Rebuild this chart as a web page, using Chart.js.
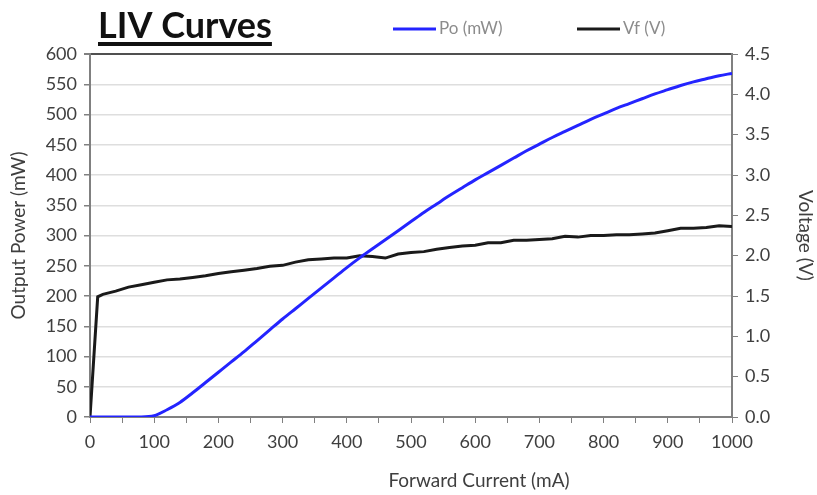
<!DOCTYPE html>
<html>
<head>
<meta charset="utf-8">
<script src="https://cdn.jsdelivr.net/npm/chart.js@4/dist/chart.umd.min.js"></script>
<style>
  body { margin: 0; background: #fff; }
  #wrap { width: 817px; height: 495px; }
</style>
</head>
<body>
<div id="wrap"><canvas id="livChart" width="817" height="495"></canvas></div>
<script>
// forward current (mA)
const currents = [0, 12, 20, 40, 60, 80, 100, 120, 140, 160, 180, 200, 220, 240, 260, 280, 300,
  320, 340, 360, 380, 400, 420, 440, 460, 480, 500, 520, 540, 560, 580, 600, 620, 640, 660, 680,
  700, 720, 740, 760, 780, 800, 820, 840, 860, 880, 900, 920, 940, 960, 980, 1000];
// output power (mW)
const poValues = [0, 0, 0, 0, 0, 0, 2, 12, 24, 40, 57, 74, 91, 108, 126, 144, 162,
  179, 196, 213, 230, 247, 263, 278, 293, 308, 323, 338, 352, 366, 379, 392, 404, 416, 428, 440,
  451, 462, 472, 482, 492, 501, 510, 518, 526, 534, 541, 548, 554, 559, 564, 568];
// forward voltage (V)
const vfValues = [0, 1.49, 1.52, 1.56, 1.61, 1.64, 1.67, 1.70, 1.71, 1.73, 1.75, 1.78, 1.80, 1.82, 1.84, 1.87, 1.88,
  1.92, 1.95, 1.96, 1.97, 1.97, 2.00, 1.99, 1.97, 2.02, 2.04, 2.05, 2.08, 2.10, 2.12, 2.13, 2.16, 2.16, 2.19, 2.19,
  2.20, 2.21, 2.24, 2.23, 2.25, 2.25, 2.26, 2.26, 2.27, 2.28, 2.31, 2.34, 2.34, 2.35, 2.37, 2.36];

const seriesNames = ['Po (mW)', 'Vf (V)'];
const chartTitle = 'LIV Curves';
const xTitle = 'Forward Current (mA)';

const FONT = 'Lato, "Open Sans", sans-serif';
const tickFont = { family: FONT, size: 18 };
const tickColor = '#3f3f3f';
const axisGray = '#808080';

// title, legend and x-axis caption drawn on the canvas
const decorations = {
    id: 'decorations',
    afterDraw(chart) {
        const c = chart.ctx;
        c.save();
        c.fillStyle = '#111';
        c.font = 'bold 36px ' + FONT;
        c.textBaseline = 'alphabetic';
        c.fillText(chartTitle, 98, 38);
        const w = c.measureText(chartTitle).width;
        c.fillRect(98, 42, w, 4);

        const items = [
            { x: 393, label: seriesNames[0], color: chart.data.datasets[0].borderColor },
            { x: 577, label: seriesNames[1], color: chart.data.datasets[1].borderColor }
        ];
        c.font = '17px ' + FONT;
        c.textBaseline = 'middle';
        items.forEach(it => {
            c.fillStyle = it.color;
            c.fillRect(it.x, 27.5, 43, 3);
            c.fillStyle = '#8c8c8c';
            c.fillText(it.label, it.x + 46, 29);
        });

        c.fillStyle = tickColor;
        c.font = '19px ' + FONT;
        c.textAlign = 'center';
        c.fillText(xTitle, 479, 481);
        c.restore();
    }
};

const ctx = document.getElementById('livChart');
new Chart(ctx, {
    type: 'line',
    data: {
        datasets: [{
            label: seriesNames[0],
            data: currents.map((x, i) => ({ x: x, y: poValues[i] })),
            borderColor: '#2424ff',
            borderWidth: 3,
            pointRadius: 0,
            cubicInterpolationMode: 'monotone',
            yAxisID: 'y'
        }, {
            label: seriesNames[1],
            data: currents.map((x, i) => ({ x: x, y: vfValues[i] })),
            borderColor: '#1a1a1a',
            borderWidth: 3,
            pointRadius: 0,
            yAxisID: 'y1'
        }]
    },
    options: {
        responsive: false,
        animation: false,
        layout: { padding: { top: 54, left: 0, right: 0, bottom: 0 } },
        plugins: {
            legend: { display: false },
            title: { display: false },
            tooltip: { enabled: false }
        },
        scales: {
            x: {
                type: 'linear',
                min: 0,
                max: 1000,
                ticks: {
                    stepSize: 50,
                    font: tickFont,
                    color: tickColor,
                    padding: 8,
                    maxRotation: 0,
                    autoSkip: false,
                    callback: v => (v % 100 === 0 ? v : '')
                },
                grid: { drawOnChartArea: false, tickLength: 6, tickColor: axisGray },
                border: { color: axisGray, width: 2 },
                afterFit: s => { s.height = 78; }
            },
            y: {
                position: 'left',
                min: 0,
                max: 600,
                ticks: { stepSize: 50, font: tickFont, color: tickColor, padding: 7 },
                grid: {
                    color: c => (c.tick && c.tick.value === 600 ? '#505050' : '#dedede'),
                    lineWidth: c => (c.tick && c.tick.value === 600 ? 2 : 1.5),
                    tickLength: 6,
                    tickColor: axisGray
                },
                border: { color: axisGray, width: 2 },
                title: {
                    display: true,
                    text: 'Output Power (mW)',
                    font: { family: FONT, size: 19 },
                    color: tickColor,
                    padding: { top: 7, bottom: 0 }
                },
                afterFit: s => { s.width = 90; }
            },
            y1: {
                position: 'right',
                min: 0,
                max: 4.5,
                ticks: {
                    stepSize: 0.5,
                    font: tickFont,
                    color: tickColor,
                    padding: 7,
                    callback: v => v.toFixed(1)
                },
                grid: { drawOnChartArea: false, tickLength: 6, tickColor: axisGray },
                border: { color: axisGray, width: 2 },
                title: {
                    display: true,
                    text: 'Voltage (V)',
                    font: { family: FONT, size: 19 },
                    color: tickColor,
                    padding: { top: 0, bottom: 0 }
                },
                afterFit: s => { s.width = 85; }
            }
        }
    },
    plugins: [decorations]
});
</script>
</body>
</html>
